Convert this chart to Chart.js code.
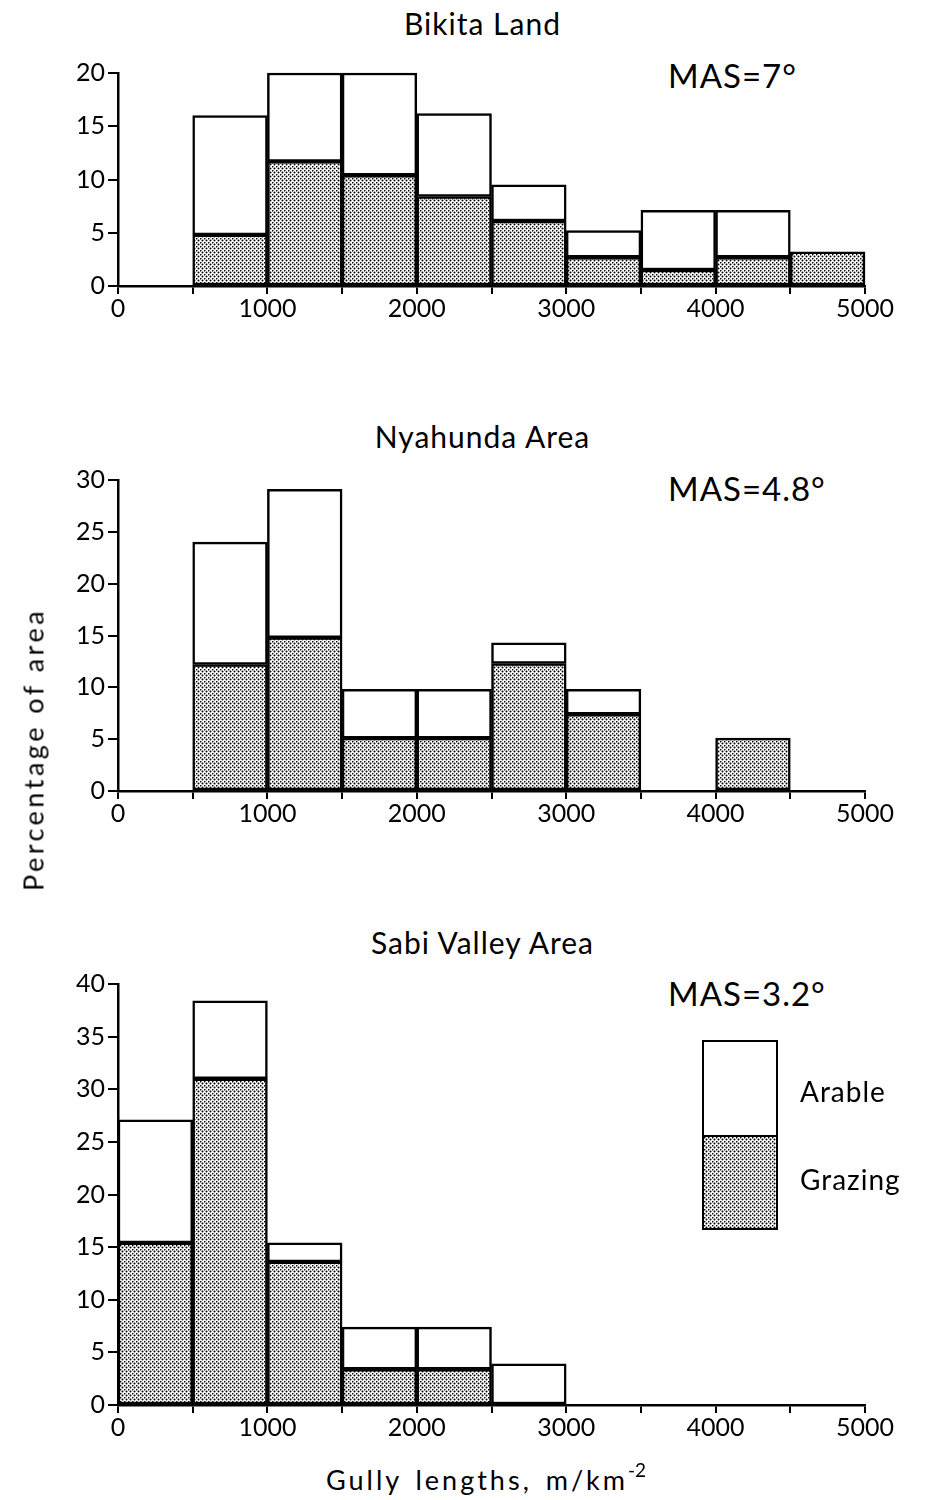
<!DOCTYPE html>
<html>
<head>
<meta charset="utf-8">
<script src="https://cdn.jsdelivr.net/npm/chart.js@4.4.1/dist/chart.umd.min.js"></script>
<style>
body{margin:0;background:#fff;}
#page{position:relative;width:925px;height:1500px;font-family:Lato,"Noto Sans",sans-serif;color:#000;overflow:hidden}
canvas{position:absolute;left:0}
.title{position:absolute;left:0;width:925px;text-align:center;font-size:30px;line-height:30px;letter-spacing:1px;padding-left:40px;box-sizing:border-box}
.mas{position:absolute;left:668px;font-size:33px;line-height:33px;letter-spacing:1px}
.lab{position:absolute;left:800px;font-size:28px;line-height:28px;letter-spacing:1px}
#key{position:absolute;left:702px;top:1040px;width:72px;height:186px;border:2.5px solid #000}
#key div{height:50%;box-sizing:border-box}
#key .g{border-top:2.5px solid #000}
#xt{position:absolute;left:326px;top:1459px;font-size:27px;line-height:27px;letter-spacing:3px;word-spacing:4px}
#xt sup{font-size:19px;letter-spacing:0;position:relative;top:-3px}
#yt{position:absolute;left:-167px;top:736px;width:400px;text-align:center;font-size:27px;line-height:27px;letter-spacing:3.5px;transform:rotate(-90deg)}
</style>
</head>
<body>
<div id="page">
  <div class="title" style="top:8px">Bikita Land</div>
  <div class="title" style="top:421px">Nyahunda Area</div>
  <div class="title" style="top:927px">Sabi Valley Area</div>
  <div class="mas" style="top:59px">MAS=7°</div>
  <div class="mas" style="top:472px">MAS=4.8°</div>
  <div class="mas" style="top:977px">MAS=3.2°</div>
  <canvas id="c1" width="925" height="290" style="top:50px"></canvas>
  <canvas id="c2" width="925" height="388" style="top:457px"></canvas>
  <canvas id="c3" width="925" height="498" style="top:961px"></canvas>
  <div id="key"><div></div><div class="g" id="keyg"></div></div>
  <div class="lab" style="top:1077px">Arable</div>
  <div class="lab" style="top:1165px">Grazing</div>
  <div id="xt">Gully lengths, m/km<sup>-2</sup></div>
  <div id="yt">Percentage of area</div>
</div>
<script>
// bins of gully length (m/km2), 500 wide
const binStarts = [0, 500, 1000, 1500, 2000, 2500, 3000, 3500, 4000, 4500];
const binWidth = 500;

// percentage of area, grazing (bottom) and arable (stacked on top)
const bikitaGrazing = [null, 4.8, 11.7, 10.4, 8.4, 6.1, 2.7, 1.5, 2.7, 3.2];
const bikitaArable  = [null, 11.2, 8.3, 9.6, 7.8, 3.4, 2.5, 5.6, 4.4, null];

const nyahundaGrazing = [null, 12.2, 14.8, 5.1, 5.1, 12.3, 7.4, null, 5.1, null];
const nyahundaArable  = [null, 11.8, 14.3, 4.7, 4.7, 2.0, 2.4, null, null, null];

const sabiGrazing = [15.4, 31.0, 13.6, 3.4, 3.4, null, null, null, null, null];
const sabiArable  = [11.7, 7.4, 1.8, 4.0, 4.0, 3.9, null, null, null, null];

const xMax = 5000;
const xStep = 500;
const yMax = [20, 30, 40];
const yStep = 5;

const FONT = 'Lato, "Noto Sans", sans-serif';

function makeDots() {
  const c = document.createElement('canvas');
  c.width = 4; c.height = 4;
  const g = c.getContext('2d');
  g.fillStyle = '#fff';
  g.fillRect(0, 0, 4, 4);
  g.fillStyle = '#000';
  g.beginPath(); g.arc(0.5, 0.5, 1.0, 0, Math.PI * 2); g.fill();
  g.beginPath(); g.arc(2.5, 2.5, 1.0, 0, Math.PI * 2); g.fill();
  return c;
}
const tile = makeDots();
const dotPattern = tile.getContext('2d').createPattern(tile, 'repeat');
document.getElementById('keyg').style.backgroundImage = 'url(' + tile.toDataURL() + ')';

function pts(arr) {
  return binStarts.map((b, i) => ({ x: b + binWidth / 2, y: arr[i] }));
}

function histo(id, grazing, arable, top) {
  const ctx = document.getElementById(id).getContext('2d');
  return new Chart(ctx, {
    type: 'bar',
    data: {
      datasets: [{
        label: 'Grazing',
        data: pts(grazing),
        backgroundColor: dotPattern,
        borderColor: '#000',
        borderWidth: 2.5,
        borderSkipped: false,
        clip: false
      }, {
        label: 'Arable',
        data: pts(arable),
        backgroundColor: '#fff',
        borderColor: '#000',
        borderWidth: 2.5,
        borderSkipped: false,
        clip: false
      }]
    },
    options: {
      responsive: false,
      animation: false,
      barPercentage: 1,
      categoryPercentage: 1,
      layout: { padding: { top: 23, right: 60, left: 0, bottom: 0 } },
      plugins: { legend: { display: false }, tooltip: { enabled: false } },
      scales: {
        x: {
          type: 'linear',
          stacked: true,
          offset: false,
          min: 0,
          max: xMax,
          afterFit: s => { s.height = 54; },
          border: { display: true, color: '#000', width: 2.5 },
          grid: { display: true, drawOnChartArea: false, drawTicks: true, tickLength: 8, color: '#000', lineWidth: 2, offset: false },
          ticks: {
            stepSize: xStep,
            autoSkip: false,
            maxRotation: 0,
            padding: 0,
            color: '#000',
            font: { family: FONT, size: 25 },
            callback: v => (v % 1000 === 0 ? String(v) : '')
          }
        },
        y: {
          stacked: true,
          min: 0,
          max: top,
          afterFit: s => { s.width = 118; },
          border: { display: true, color: '#000', width: 2.5 },
          grid: { display: true, drawOnChartArea: false, drawTicks: true, tickLength: 10, color: '#000', lineWidth: 2 },
          ticks: {
            stepSize: yStep,
            padding: 3,
            color: '#000',
            font: { family: FONT, size: 25 }
          }
        }
      }
    }
  });
}

histo('c1', bikitaGrazing, bikitaArable, yMax[0]);
histo('c2', nyahundaGrazing, nyahundaArable, yMax[1]);
histo('c3', sabiGrazing, sabiArable, yMax[2]);
</script>
</body>
</html>
